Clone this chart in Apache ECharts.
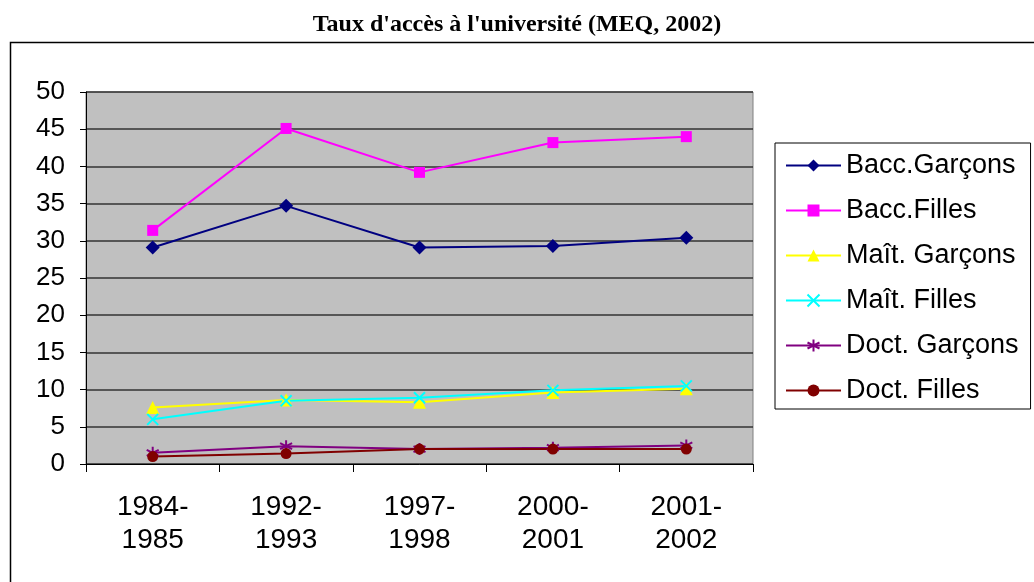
<!DOCTYPE html>
<html>
<head>
<meta charset="utf-8">
<script src="https://cdn.jsdelivr.net/npm/echarts@6/dist/echarts.min.js"></script>
<style>
  html, body { margin: 0; padding: 0; background: #fff; }
  #chart { width: 1034px; height: 582px; }
</style>
</head>
<body>
<div id="chart"></div>
<script>
// catégories et valeurs
var categories = ['1984-\n1985', '1992-\n1993', '1997-\n1998', '2000-\n2001', '2001-\n2002'];
var baccGarcons = [29.1, 34.7, 29.1, 29.3, 30.4];
var baccFilles = [31.4, 45.1, 39.2, 43.2, 44.0];
var maitGarcons = [7.6, 8.6, 8.3, 9.6, 10.1];
var maitFilles = [6.0, 8.5, 8.9, 9.9, 10.5];
var doctGarcons = [1.5, 2.4, 2.0, 2.2, 2.5];
var doctFilles = [1.0, 1.4, 2.0, 2.0, 2.0];

var font = 'Liberation Sans, Arial, sans-serif';

// symbole en croix et étoile (dessinés au trait)
var crossSymbol = 'path://M0,0L10,10M10,0L0,10';
var starSymbol = 'path://M5,0L5,10M0,2.5L10,7.5M0,7.5L10,2.5';

function makeSerie (name, data, color, symbol, size, stroke) {
  return {
    name: name,
    type: 'line',
    data: data,
    symbol: symbol,
    symbolSize: size,
    lineStyle: { color: color, width: 2 },
    itemStyle: {
      color: stroke ? 'rgba(0,0,0,0)' : color,
      borderColor: color,
      borderWidth: stroke ? 2 : 0
    },
    emphasis: { disabled: true }
  };
}

var myChart = echarts.init(document.getElementById('chart'));
var option = {
  animation: false,
  title: {
    text: "Taux d'accès à l'université (MEQ, 2002)",
    left: 'center',
    top: 8,
    textStyle: {
      fontFamily: 'Liberation Serif, Times New Roman, serif',
      fontWeight: 'bold',
      fontSize: 24,
      color: '#000'
    }
  },
  graphic: [{
    type: 'rect',
    z: -10,
    shape: { x: 10.5, y: 42.5, width: 1100, height: 600 },
    style: { fill: 'none', stroke: '#000', lineWidth: 1.5 }
  }],
  legend: {
    orient: 'vertical',
    left: 775,
    top: 143,
    padding: [9, 12, 5, 10],
    borderColor: '#000',
    borderWidth: 1,
    itemWidth: 55,
    itemHeight: 15,
    itemGap: 18,
    textStyle: { fontFamily: font, fontSize: 27, color: '#000' }
  },
  grid: {
    left: 86,
    top: 92,
    right: 281,
    bottom: 118,
    show: true,
    backgroundColor: '#c0c0c0',
    borderColor: '#808080',
    borderWidth: 1,
    containLabel: false
  },
  xAxis: {
    type: 'category',
    data: categories,
    boundaryGap: true,
    axisLine: { lineStyle: { color: '#000', width: 1 } },
    axisTick: { show: true, length: 8, lineStyle: { color: '#000' } },
    axisLabel: {
      fontFamily: font,
      fontSize: 28,
      color: '#000',
      margin: 27,
      lineHeight: 33
    }
  },
  yAxis: {
    type: 'value',
    min: 0,
    max: 50,
    interval: 5,
    axisLine: { show: true, lineStyle: { color: '#000', width: 1 } },
    axisTick: { show: true, length: 6, lineStyle: { color: '#000' } },
    splitLine: { lineStyle: { color: '#333', width: 1.5 } },
    axisLabel: {
      fontFamily: font,
      fontSize: 26,
      color: '#000',
      margin: 21
    }
  },
  series: [
    makeSerie('Bacc.Garçons', baccGarcons, '#000080', 'diamond', 14, false),
    makeSerie('Bacc.Filles', baccFilles, '#ff00ff', 'rect', 11, false),
    makeSerie('Maît. Garçons', maitGarcons, '#ffff00', 'triangle', 13, false),
    makeSerie('Maît. Filles', maitFilles, '#00ffff', crossSymbol, 11, true),
    makeSerie('Doct. Garçons', doctGarcons, '#800080', starSymbol, 12, true),
    makeSerie('Doct. Filles', doctFilles, '#800000', 'circle', 11, false)
  ]
};
myChart.setOption(option);
</script>
</body>
</html>
